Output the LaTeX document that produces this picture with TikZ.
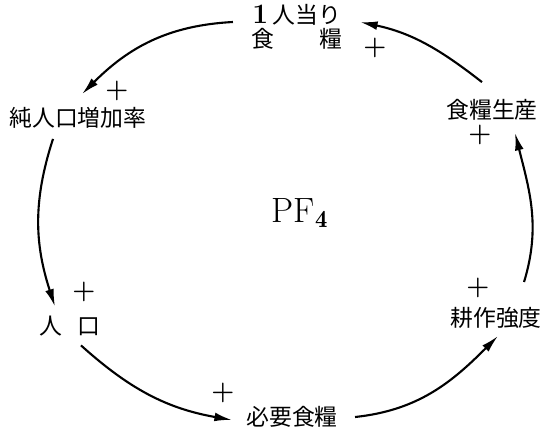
\documentclass[tikz,border=0pt]{standalone}
\usepackage{fontspec}
\usepackage{tikz}
\usetikzlibrary{arrows.meta}
\newfontfamily\jp{Noto Sans CJK JP}

\begin{document}
\begin{tikzpicture}[x=0.02cm, y=0.02cm,
  lbl/.style={inner sep=0pt, font=\jp\fontsize{13}{15}\selectfont, align=center},
  sgn/.style={inner sep=0pt, font=\fontsize{15}{15}\selectfont\bfseries},
  link/.style={-{Latex[length=10pt,width=5pt]}, line width=1.2pt}]

\useasboundingbox (0,0) rectangle (541,-429);

% Food per person
\node[lbl] (percap) at (297,-27) {{\rmfamily\bfseries\fontsize{16}{15}\selectfont 1\,}人当り\\[-1pt]食\hspace{2em}糧};

% Net growth rate
\node[lbl] (growth) at (78,-118) {純人口増加率};

% Population
\node[lbl] (pop) at (70,-326) {人\hspace{0.7em}口};

% Food needed
\node[lbl] (need) at (292,-417) {必要食糧};

% Cultivation intensity
\node[lbl] (intens) at (496,-318) {耕作強度};

% Food production
\node[lbl] (prod) at (492,-110) {食糧生産};

% Loop name
\node[inner sep=0pt, font=\fontsize{20}{22}\selectfont] (loop) at (300,-213) {$\mathrm{PF}_{\mathbf{4}}$};

% Signs
\node[sgn] (sgnA) at (375,-48) {+};
\node[sgn] (sgnB) at (117,-91) {+};
\node[sgn] (sgnC) at (84,-292) {+};
\node[sgn] (sgnD) at (223,-393) {+};
\node[sgn] (sgnE) at (478,-288) {+};
\node[sgn] (sgnF) at (480,-135) {+};

% Arrows
\draw[link] ([shift={(-18,5)}]percap.west) to[out=183, in=45] ([shift={(4,13)}]growth.north);
\draw[link] ([shift={(-25,-10)}]growth.south) to[out=252, in=108] ([shift={(-15,9)}]pop.north);
\draw[link] ([shift={(11,-9)}]pop.south) to[out=318, in=170] ([shift={(-14,-3)}]need.west);
\draw[link] ([shift={(17,0)}]need.east) to[out=6, in=225] ([shift={(2,-7)}]intens.south);
\draw[link] ([shift={(-18,25)}]intens.north east) to[out=73, in=284] ([shift={(-23,-12)}]prod.south east);
\draw[link] ([shift={(-10,17)}]prod.north) to[out=142, in=348] ([shift={(17,5)}]percap.east);

\end{tikzpicture}
\end{document}
